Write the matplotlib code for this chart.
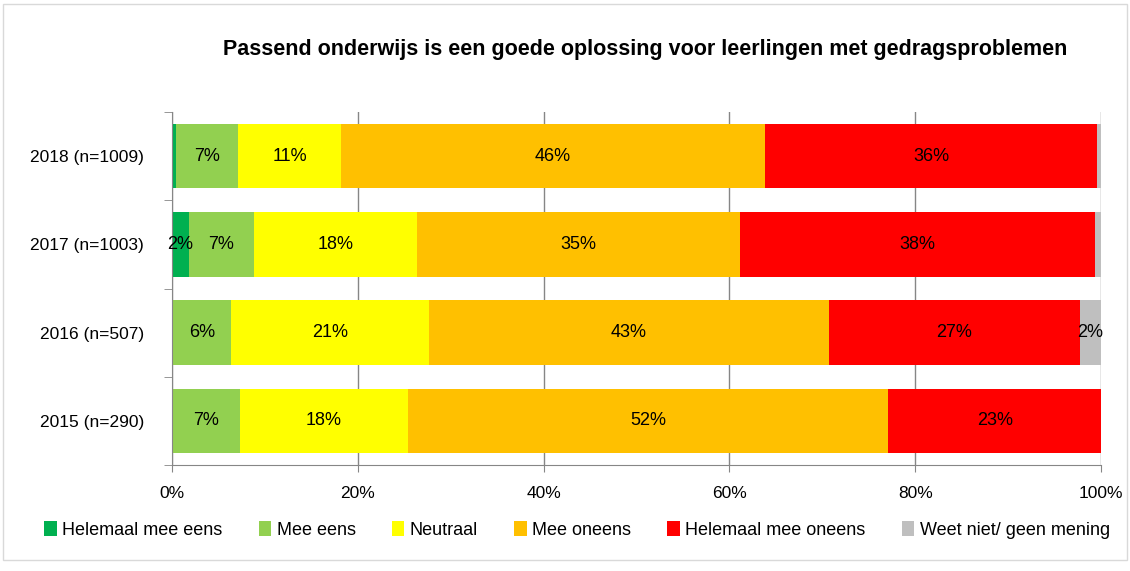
import numpy as np
import matplotlib.pyplot as plt
from matplotlib.patches import Rectangle

years = ['2018 (n=1009)', '2017 (n=1003)', '2016 (n=507)', '2015 (n=290)']
categories = ['Helemaal mee eens', 'Mee eens', 'Neutraal', 'Mee oneens',
              'Helemaal mee oneens', 'Weet niet/ geen mening']
colors = ['#00b050', '#92d050', '#ffff00', '#ffc000', '#ff0000', '#bfbfbf']

helemaal_eens = [0.4, 1.8, 0.0, 0.0]
mee_eens = [6.7, 7.0, 6.4, 7.3]
neutraal = [11.1, 17.6, 21.3, 18.1]
mee_oneens = [45.6, 34.7, 43.0, 51.7]
helemaal_oneens = [35.8, 38.3, 27.0, 22.9]
weet_niet = [0.4, 0.6, 2.3, 0.0]

series = [helemaal_eens, mee_eens, neutraal, mee_oneens, helemaal_oneens, weet_niet]

plt.rcParams['font.family'] = ['Liberation Sans', 'DejaVu Sans']

fig = plt.figure(figsize=(11.3, 5.71), dpi=100)
ax = fig.add_axes([172 / 1130, 1 - 465 / 571, (1101 - 172) / 1130, (465 - 112) / 571])

y = np.arange(len(years))
left = np.zeros(len(years))
for vals, c, name in zip(series, colors, categories):
    vals = np.array(vals)
    ax.barh(y, vals, left=left, height=0.73, color=c, label=name, zorder=2)
    for i, v in enumerate(vals):
        if v >= 1.5:
            ax.text(left[i] + v / 2, y[i], '%d%%' % round(v), ha='center',
                    va='center', fontsize=13, color='black', zorder=3)
    left += vals

ax.set_xlim(0, 100)
ax.set_ylim(len(years) - 0.5, -0.5)
ax.set_yticks(y)
ax.set_yticklabels(years, fontsize=12.5)
ax.set_yticks(np.arange(-0.5, len(years)), minor=True)
ax.tick_params(axis='y', which='major', length=0, pad=20)
ax.tick_params(axis='y', which='minor', length=6, color='#868686')
ax.set_xticks(np.arange(0, 101, 20))
ax.set_xticklabels(['%d%%' % t for t in range(0, 101, 20)], fontsize=12.5)
ax.tick_params(axis='x', length=5, color='#868686', pad=10)
ax.grid(axis='x', color='#868686', lw=1, zorder=0)
for s in ['top', 'right']:
    ax.spines[s].set_visible(False)
for s in ['left', 'bottom']:
    ax.spines[s].set_color('#868686')

fig.text(645 / 1130, 1 - 50 / 571,
         'Passend onderwijs is een goede oplossing voor leerlingen met gedragsproblemen',
         ha='center', va='center', fontsize=15.5, fontweight='bold')

fig.legend(loc='center', bbox_to_anchor=(577 / 1130, 1 - 530 / 571),
           ncol=6, frameon=False, fontsize=13, handlelength=0.7, handleheight=0.9,
           handletextpad=0.3, columnspacing=2.0)

fig.patches.append(Rectangle((3 / 1130, 1 - 560 / 571), 1124 / 1130, 556 / 571,
                             transform=fig.transFigure, fill=False,
                             edgecolor='#d9d9d9', lw=1))

fig.savefig('out.png', dpi=100)
